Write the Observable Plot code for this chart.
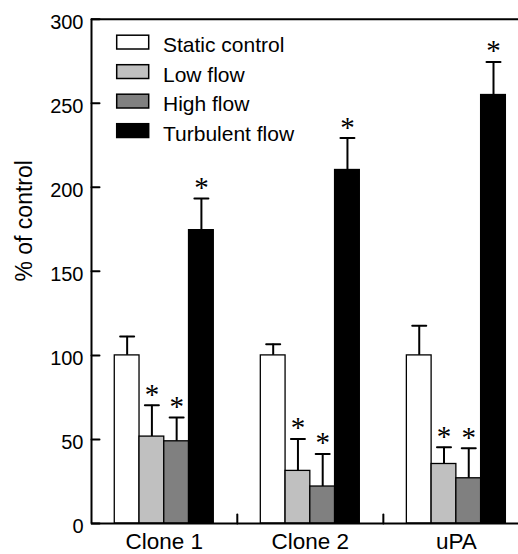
<!DOCTYPE html>
<html>
<head>
<meta charset="utf-8">
<script src="https://cdn.jsdelivr.net/npm/d3@7"></script>
<script src="https://cdn.jsdelivr.net/npm/@observablehq/plot@0.6"></script>
<style>
  html, body { margin: 0; padding: 0; background: #fff; }
  #chart { width: 518px; height: 554px; overflow: hidden; }
</style>
</head>
<body>
<div id="chart"></div>
<script>
// ---- data ----
const groups = ["Clone 1", "Clone 2", "uPA"];
const series = ["Static control", "Low flow", "High flow", "Turbulent flow"];
const seriesColors = ["#ffffff", "#c0c0c0", "#808080", "#000000"];

const staticControl = [100, 100, 100];
const lowFlow       = [51.7, 31.3, 35.4];
const highFlow      = [48.9, 22.0, 26.9];
const turbulentFlow = [174.5, 210.3, 254.9];

const staticErr    = [11.3, 6.7, 17.6];
const lowErr       = [18.6, 19.0, 9.9];
const highErr      = [14.1, 19.4, 17.8];
const turbulentErr = [18.8, 19.0, 19.7];

const significant = [false, true, true, true]; // per series (* vs static control)

const yTicks = [0, 50, 100, 150, 200, 250, 300];

// ---- layout: x in units of one bar width ----
const GROUP_STEP = 5.9;        // bar widths from one group start to the next
const XDOMAIN = [-0.94, 16.31];

const values = [staticControl, lowFlow, highFlow, turbulentFlow];
const errs = [staticErr, lowErr, highErr, turbulentErr];

const rows = [];
groups.forEach((g, gi) => {
  series.forEach((s, si) => {
    const x1 = gi * GROUP_STEP + si;
    rows.push({
      group: g, series: s, x1, x2: x1 + 1, xc: x1 + 0.5,
      value: values[si][gi], top: values[si][gi] + errs[si][gi],
      sig: significant[si]
    });
  });
});
const groupCenters = groups.map((g, gi) => gi * GROUP_STEP + 2);
const groupBounds = groups.slice(0, -1).map((g, gi) => gi * GROUP_STEP + 2 + GROUP_STEP / 2);

const lineShape = { draw(ctx, l) { ctx.moveTo(0, 0); ctx.lineTo(0, -l); } };

const plot = Plot.plot({
  width: 518,
  height: 554,
  marginTop: 18.7,
  marginBottom: 31,
  marginLeft: 91,
  marginRight: 0,
  style: { fontFamily: "'Liberation Sans', Arial, sans-serif", fontSize: "20px", background: "#fff", overflow: "hidden" },
  x: { domain: XDOMAIN, axis: null },
  y: { domain: [0, 300], axis: null },
  color: { domain: series, range: seriesColors },
  marks: [
    // error bars (upper only)
    Plot.ruleX(rows, { x: "xc", y1: "value", y2: "top", stroke: "#000", strokeWidth: 2 }),
    Plot.vector(rows, { x: "xc", y: "top", rotate: 90, length: 14, anchor: "middle", shape: lineShape, stroke: "#000", strokeWidth: 2 }),
    // bars
    Plot.rectY(rows, { x1: "x1", x2: "x2", y: "value", fill: "series", stroke: "#000", strokeWidth: 1.3 }),
    // significance asterisks
    Plot.text(rows.filter(d => d.sig), { x: "xc", y: "top", text: () => "*", lineAnchor: "bottom", dy: -1.5, fontSize: 29, fontFamily: "'Liberation Serif', 'Times New Roman', serif", fill: "#000" }),
    // frame lines
    Plot.ruleY([0, 300], { stroke: "#000", strokeWidth: 2 }),
    Plot.ruleX([XDOMAIN[0]], { stroke: "#000", strokeWidth: 2 }),
    // inward ticks
    Plot.vector(yTicks, { x: XDOMAIN[0], y: d => d, rotate: 90, length: 8, anchor: "start", shape: lineShape, stroke: "#000", strokeWidth: 2 }),
    Plot.vector(groupBounds, { x: d => d, y: 0, rotate: 0, length: 9, anchor: "start", shape: lineShape, stroke: "#000", strokeWidth: 2 }),
    // axes
    Plot.axisY(yTicks, { tickSize: 0, tickPadding: 8, fontSize: 20, dy: 3, label: null, fill: "#000" }),
    Plot.axisX(groupCenters, { tickSize: 0, tickPadding: 10, fontSize: 22.5, label: null, fill: "#000",
      tickFormat: d => groups[Math.round((d - 2) / GROUP_STEP)] }),
    Plot.text(["% of control"], { frameAnchor: "left", rotate: -90, dx: -66.7, dy: 10.2, fontSize: 23, fill: "#000" })
  ]
});

// legend inside the plot area
const svg = d3.select(plot);
const lg = svg.append("g")
  .attr("font-family", "'Liberation Sans', Arial, sans-serif")
  .attr("font-size", 21)
  .attr("text-anchor", "start");
series.forEach((s, i) => {
  lg.append("rect")
    .attr("x", 116.7).attr("y", 35.2 + 29.5 * i)
    .attr("width", 32).attr("height", 13.8)
    .attr("fill", seriesColors[i]).attr("stroke", "#000").attr("stroke-width", 1.5);
  lg.append("text")
    .attr("x", 163).attr("y", 52.3 + 29.5 * i)
    .attr("text-anchor", "start")
    .attr("fill", "#000")
    .text(s);
});

document.getElementById("chart").appendChild(plot);
</script>
</body>
</html>
